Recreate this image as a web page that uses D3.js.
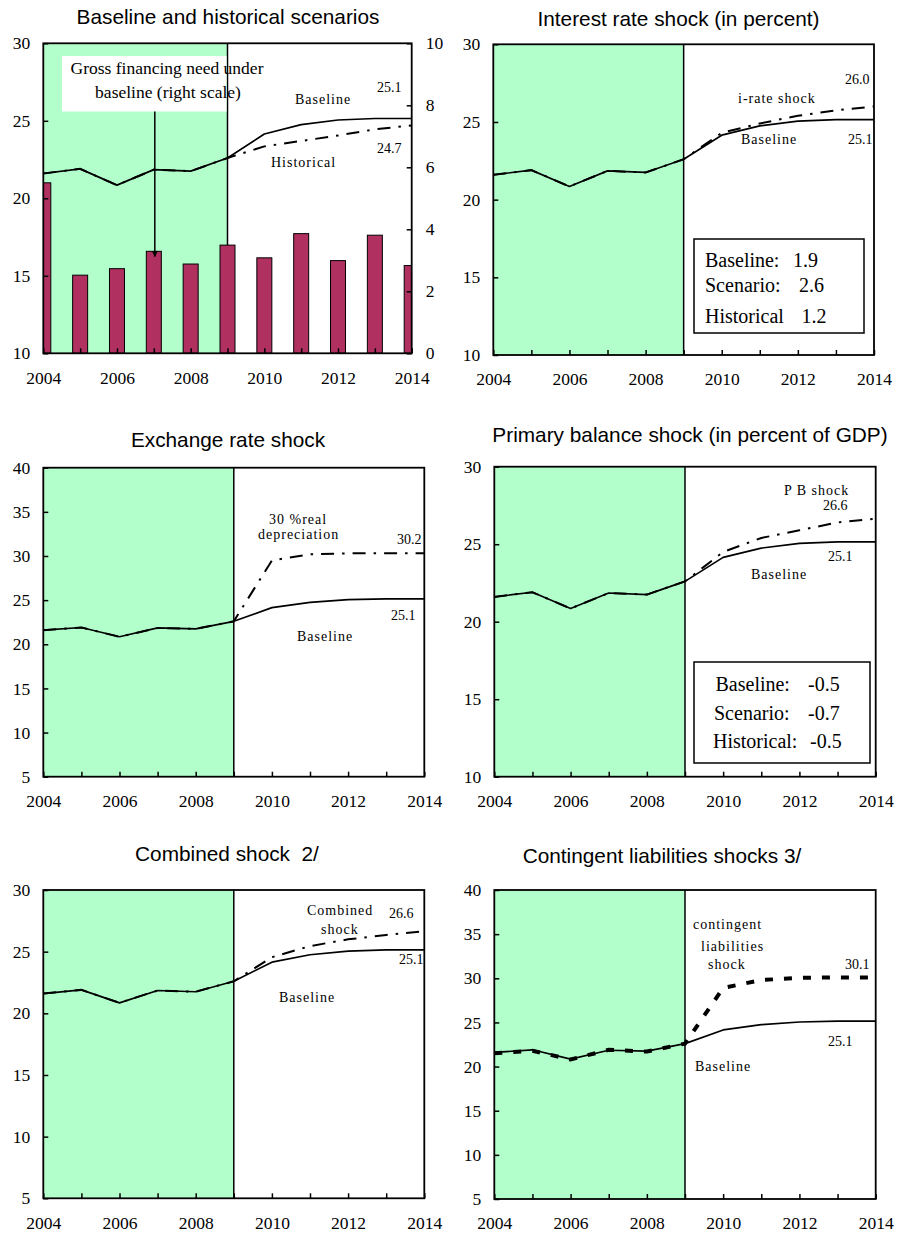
<!DOCTYPE html>
<html>
<head>
<meta charset="utf-8">
<script src="https://cdn.jsdelivr.net/npm/d3@7"></script>
<style>
  html, body { margin: 0; padding: 0; background: #fff; }
  svg { display: block; }
  .title { font-family: "Liberation Sans", Arial, sans-serif; font-size: 20.8px; fill: #000; white-space: pre; }
  .lab { font-family: "Liberation Serif", "Times New Roman", serif; font-size: 14px; fill: #000; letter-spacing: 1px; }
  .num { font-family: "Liberation Serif", "Times New Roman", serif; font-size: 14px; fill: #000; }
  .box { font-family: "Liberation Serif", "Times New Roman", serif; font-size: 20px; fill: #000; }
  .ann { font-family: "Liberation Serif", "Times New Roman", serif; font-size: 17.5px; fill: #000; }
  .ax text { font-family: "Liberation Serif", "Times New Roman", serif !important; font-size: 17.5px !important; fill: #000; }
</style>
</head>
<body>
<script>
// ---------------- DATA ----------------
const years = [2004, 2005, 2006, 2007, 2008, 2009, 2010, 2011, 2012, 2013, 2014];
const xTickLabels = [2004, 2006, 2008, 2010, 2012, 2014];
const baseline          = [21.6, 21.9, 20.85, 21.85, 21.75, 22.6, 24.15, 24.75, 25.05, 25.15, 25.15];
const historical        = [21.6, 21.9, 20.85, 21.85, 21.75, 22.6, 23.35, 23.7, 24.05, 24.45, 24.7];
const grossFinancingNeed = [5.5, 2.52, 2.73, 3.29, 2.88, 3.49, 3.08, 3.86, 2.99, 3.81, 2.83];
const interestRateShock = [21.6, 21.9, 20.85, 21.85, 21.75, 22.6, 24.3, 24.9, 25.4, 25.75, 26.0];
const depreciationShock = [21.6, 21.9, 20.85, 21.85, 21.75, 22.6, 29.5, 30.2, 30.3, 30.3, 30.3];
const pbShock           = [21.6, 21.9, 20.85, 21.85, 21.75, 22.6, 24.5, 25.4, 25.9, 26.4, 26.65];
const combinedShock     = [21.6, 21.9, 20.85, 21.85, 21.75, 22.6, 24.55, 25.45, 26.0, 26.35, 26.65];
const contingentShock   = [21.5, 21.8, 20.8, 21.9, 21.7, 22.6, 28.9, 29.8, 30.05, 30.1, 30.1];
const projectionStart = 2009;
const interestBoxRows = [["Baseline:", "1.9"], ["Scenario:", "2.6"], ["Historical", "1.2"]];
const pbBoxRows = [["Baseline:", "-0.5"], ["Scenario:", "-0.7"], ["Historical:", "-0.5"]];

// ---------------- LAYOUT / STYLE ----------------
const W = 898, H = 1234;
const GREEN = "#b3ffcc", BAR = "#b03060";
const DASHDOT = "13,8,2.5,8";
const SERIF = "'Liberation Serif', 'Times New Roman', serif";

const svg = d3.select("body").append("svg").attr("width", W).attr("height", H);
const defs = svg.append("defs");
defs.append("marker").attr("id", "arrow").attr("viewBox", "0 0 10 10")
  .attr("refX", 9).attr("refY", 5).attr("markerWidth", 6).attr("markerHeight", 7)
  .attr("markerUnits", "userSpaceOnUse").attr("orient", "auto")
  .append("path").attr("d", "M0,0 L10,5 L0,10 Z").attr("fill", "#000");

const panels = [
  { title: "Baseline and historical scenarios", tx: 228, ty: 24,
    L: 43.3, R: 411.7, T: 43.3, B: 353.3, y: [10, 30], yTicks: [10, 15, 20, 25, 30],
    right: { y: [0, 10], ticks: [0, 2, 4, 6, 8, 10] },
    series: [{ v: historical, dash: DASHDOT, w: 2 }],
    labels: [
      { t: "Baseline", x: 295, y: 104, c: "lab" }, { t: "25.1", x: 377, y: 92, c: "num" },
      { t: "24.7", x: 377, y: 153, c: "num" }, { t: "Historical", x: 271, y: 166.5, c: "lab" } ] },
  { title: "Interest rate shock (in percent)", tx: 678.5, ty: 26,
    L: 493.3, R: 874, T: 44.3, B: 355, y: [10, 30], yTicks: [10, 15, 20, 25, 30],
    series: [{ v: interestRateShock, dash: DASHDOT, w: 2 }],
    labels: [
      { t: "26.0", x: 845, y: 84, c: "num" }, { t: "i-rate shock", x: 738, y: 103, c: "lab" },
      { t: "Baseline", x: 741, y: 144, c: "lab" }, { t: "25.1", x: 848, y: 144, c: "num" } ],
    box: { x: 694, y: 239, w: 170, h: 94, rows: interestBoxRows,
           lx: [705, 705, 705], vx: [793, 799, 801.5], ly: [266.5, 292, 322.5] } },
  { title: "Exchange rate shock", tx: 228, ty: 447,
    L: 43.3, R: 424.3, T: 467.7, B: 776.7, y: [5, 40], yTicks: [5, 10, 15, 20, 25, 30, 35, 40],
    series: [{ v: depreciationShock, dash: DASHDOT, w: 2 }],
    labels: [
      { t: "30 %real", x: 269, y: 524, c: "lab" }, { t: "depreciation", x: 258, y: 538.5, c: "lab" },
      { t: "30.2", x: 397, y: 544, c: "num" }, { t: "25.1", x: 391, y: 620, c: "num" },
      { t: "Baseline", x: 297, y: 640.5, c: "lab" } ] },
  { title: "Primary balance shock (in percent of GDP)", tx: 690, ty: 442,
    L: 494.3, R: 875.7, T: 466.7, B: 776.7, y: [10, 30], yTicks: [10, 15, 20, 25, 30],
    series: [{ v: pbShock, dash: DASHDOT, w: 2 }],
    labels: [
      { t: "P B shock", x: 784, y: 495, c: "lab" }, { t: "26.6", x: 823, y: 510, c: "num" },
      { t: "25.1", x: 828, y: 560.5, c: "num" }, { t: "Baseline", x: 751, y: 579, c: "lab" } ],
    box: { x: 694, y: 662, w: 176, h: 101, rows: pbBoxRows,
           lx: [715.5, 714, 713], vx: [808, 808, 810], ly: [691, 720, 748] } },
  { title: "Combined shock  2/", tx: 227, ty: 861,
    L: 43.3, R: 424.3, T: 890, B: 1198.3, y: [5, 30], yTicks: [5, 10, 15, 20, 25, 30],
    series: [{ v: combinedShock, dash: DASHDOT, w: 2 }],
    labels: [
      { t: "Combined", x: 307, y: 915, c: "lab" }, { t: "shock", x: 321, y: 934, c: "lab" },
      { t: "26.6", x: 389, y: 917.5, c: "num" }, { t: "25.1", x: 399, y: 964, c: "num" },
      { t: "Baseline", x: 279, y: 1001.5, c: "lab" } ] },
  { title: "Contingent liabilities shocks 3/", tx: 662, ty: 863,
    L: 494.3, R: 875.7, T: 890, B: 1199, y: [5, 40], yTicks: [5, 10, 15, 20, 25, 30, 35, 40],
    series: [{ v: contingentShock, dash: "8,11", w: 4 }],
    labels: [
      { t: "contingent", x: 693, y: 929, c: "lab" }, { t: "liabilities", x: 701, y: 950.5, c: "lab" },
      { t: "shock", x: 708, y: 969, c: "lab" }, { t: "30.1", x: 845, y: 969, c: "num" },
      { t: "25.1", x: 828, y: 1046, c: "num" }, { t: "Baseline", x: 695, y: 1070.5, c: "lab" } ] }
];

function styleAxis(sel) {
  sel.attr("class", "ax").attr("font-family", SERIF).attr("font-size", 17.5);
  sel.select(".domain").remove();
  sel.selectAll(".tick line").attr("stroke", "#000").attr("stroke-width", 1.5);
  sel.selectAll(".tick text").attr("fill", "#000").attr("font-family", SERIF);
}

panels.forEach((p, i) => {
  const x = d3.scaleLinear().domain([years[0], years[years.length - 1]]).range([p.L, p.R]);
  const y = d3.scaleLinear().domain(p.y).range([p.B, p.T]);
  const g = svg.append("g");
  const clipId = "clip" + i;
  defs.append("clipPath").attr("id", clipId).append("rect")
    .attr("x", p.L).attr("y", p.T).attr("width", p.R - p.L).attr("height", p.B - p.T);

  g.append("text").attr("class", "title").attr("x", p.tx).attr("y", p.ty)
    .attr("text-anchor", "middle").text(p.title);

  g.append("rect").attr("x", p.L).attr("y", p.T)
    .attr("width", x(projectionStart) - p.L).attr("height", p.B - p.T).attr("fill", GREEN);

  g.append("line").attr("x1", x(projectionStart)).attr("x2", x(projectionStart))
    .attr("y1", p.T).attr("y2", p.B).attr("stroke", "#000").attr("stroke-width", 1.5);

  if (p.right) {
    const yr = d3.scaleLinear().domain(p.right.y).range([p.B, p.T]);
    const bw = 15;
    g.append("g").attr("clip-path", `url(#${clipId})`).selectAll("rect")
      .data(years.map((yy, k) => ({ yy, v: grossFinancingNeed[k] })))
      .join("rect")
      .attr("x", d => x(d.yy) - bw / 2).attr("width", bw)
      .attr("y", d => yr(d.v)).attr("height", d => yr(0) - yr(d.v))
      .attr("fill", BAR).attr("stroke", "#000").attr("stroke-width", 1);

    const ra = g.append("g").attr("transform", `translate(${p.R},0)`)
      .call(d3.axisRight(yr).tickValues(p.right.ticks).tickSize(-5).tickPadding(14).tickFormat(d3.format("d")));
    styleAxis(ra);
  }

  if (i === 0) {
    g.append("rect").attr("x", 62).attr("y", 56).attr("width", 164.5).attr("height", 55.5).attr("fill", "#fff");
    g.append("text").attr("class", "ann").attr("x", 167).attr("y", 74).attr("text-anchor", "middle")
      .text("Gross financing need under");
    g.append("text").attr("class", "ann").attr("x", 168).attr("y", 98).attr("text-anchor", "middle")
      .text("baseline (right scale)");
    g.append("line").attr("x1", x(2007) + 1).attr("x2", x(2007) + 1)
      .attr("y1", 111.5).attr("y2", 256.5)
      .attr("stroke", "#000").attr("stroke-width", 1.5).attr("marker-end", "url(#arrow)");
  }

  const line = d3.line().x((d, k) => x(years[k])).y(d => y(d));
  const lg = g.append("g").attr("clip-path", `url(#${clipId})`);
  p.series.forEach(s => {
    lg.append("path").attr("d", line(s.v)).attr("fill", "none").attr("stroke", "#000")
      .attr("stroke-width", s.w).attr("stroke-dasharray", s.dash);
  });
  lg.append("path").attr("d", line(baseline)).attr("fill", "none").attr("stroke", "#000")
    .attr("stroke-width", 1.7).attr("stroke-linejoin", "round");

  g.append("rect").attr("x", p.L).attr("y", p.T).attr("width", p.R - p.L).attr("height", p.B - p.T)
    .attr("fill", "none").attr("stroke", "#000").attr("stroke-width", 1.8);

  const xa = g.append("g").attr("transform", `translate(0,${p.B})`)
    .call(d3.axisBottom(x).tickValues(years).tickSize(-5).tickPadding(18)
      .tickFormat(d => xTickLabels.includes(d) ? String(d) : ""));
  styleAxis(xa);

  const ya = g.append("g").attr("transform", `translate(${p.L},0)`)
    .call(d3.axisLeft(y).tickValues(p.yTicks).tickSize(-5).tickPadding(13).tickFormat(d3.format("d")));
  styleAxis(ya);

  p.labels.forEach(l => {
    g.append("text").attr("class", l.c).attr("x", l.x).attr("y", l.y).text(l.t);
  });

  if (p.box) {
    const b = p.box;
    g.append("rect").attr("x", b.x).attr("y", b.y).attr("width", b.w).attr("height", b.h)
      .attr("fill", "#fff").attr("stroke", "#000").attr("stroke-width", 1.5);
    b.rows.forEach((r, k) => {
      g.append("text").attr("class", "box").attr("x", b.lx[k]).attr("y", b.ly[k]).text(r[0]);
      g.append("text").attr("class", "box").attr("x", b.vx[k]).attr("y", b.ly[k]).text(r[1]);
    });
  }
});
</script>
</body>
</html>
